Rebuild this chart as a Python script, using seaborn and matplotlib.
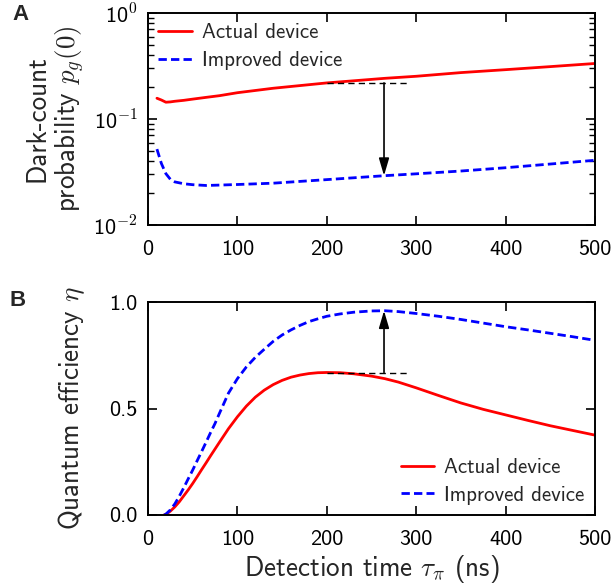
import matplotlib
matplotlib.use("Agg")
import matplotlib.pyplot as plt
import seaborn as sns
import pandas as pd
from matplotlib.ticker import FixedLocator, FixedFormatter, LogLocator, NullFormatter, FormatStrFormatter, NullLocator

# Panel A: dark-count probability versus detection time
tau_a = [10, 15, 20, 25, 30, 40, 50, 65, 80, 100, 140, 200, 265, 300, 350, 400, 450, 500]
actual_pg = [0.157, 0.151, 0.144, 0.145, 0.147, 0.150, 0.154, 0.160, 0.166, 0.177, 0.195,
             0.219, 0.242, 0.253, 0.274, 0.292, 0.312, 0.334]
improved_pg = [0.052, 0.038, 0.0305, 0.027, 0.0255, 0.0245, 0.024, 0.0236, 0.0238, 0.0241,
               0.0248, 0.0268, 0.0292, 0.0304, 0.0323, 0.0347, 0.0376, 0.0408]

# Panel B: quantum efficiency versus detection time
tau_b = [18, 20, 25, 30, 35, 40, 45, 50, 55, 60, 65, 70, 75, 80, 90, 100, 110, 120, 130,
         140, 150, 160, 170, 180, 190, 200, 215, 230, 250, 265, 280, 300, 325, 350, 375,
         400, 425, 450, 475, 500]
actual_eta = [0.0, 0.003, 0.018, 0.038, 0.062, 0.090, 0.118, 0.148, 0.180, 0.213, 0.245,
              0.278, 0.310, 0.342, 0.405, 0.461, 0.511, 0.553, 0.586, 0.612, 0.632, 0.647,
              0.657, 0.664, 0.668, 0.669, 0.668, 0.663, 0.652, 0.640, 0.624, 0.597, 0.561,
              0.526, 0.496, 0.470, 0.444, 0.419, 0.397, 0.375]
improved_eta = [0.0, 0.004, 0.024, 0.052, 0.088, 0.128, 0.170, 0.211, 0.255, 0.298, 0.342,
                0.387, 0.430, 0.478, 0.572, 0.640, 0.695, 0.740, 0.778, 0.815, 0.845, 0.869,
                0.890, 0.908, 0.921, 0.933, 0.944, 0.952, 0.958, 0.959, 0.955, 0.946, 0.933,
                0.918, 0.901, 0.884, 0.869, 0.853, 0.837, 0.820]

labels = ["Actual device", "Improved device"]
x_ticks = [0, 100, 200, 300, 400, 500]
logy_ticks = [1e-2, 1e-1, 1e0]
logy_labels = [r"10$^{\mathsf{-2}}$", r"10$^{\mathsf{-1}}$", r"10$^{\mathsf{0}}$"]
eta_ticks = [0.0, 0.5, 1.0]

# improvement markers: reference time of the actual device and the optimal time
tau_ref, tau_opt, tau_dash_end = 200, 264, 290
pg_ref, pg_opt = 0.219, 0.0292
eta_ref, eta_opt = 0.669, 0.959

sns.set_theme(style="ticks")
plt.rcParams.update({
    "font.family": ["cmss10", "DejaVu Sans"],
    "mathtext.fontset": "cm",
    "axes.unicode_minus": False,
    "axes.linewidth": 1.4,
    "axes.edgecolor": "black",
    "xtick.direction": "in",
    "ytick.direction": "in",
    "xtick.top": True,
    "ytick.right": True,
    "xtick.major.size": 6.5,
    "ytick.major.size": 6.5,
    "xtick.major.width": 1.2,
    "ytick.major.width": 1.2,
    "ytick.minor.size": 4,
    "ytick.minor.width": 1.0,
    "xtick.major.pad": 10.5,
    "ytick.major.pad": 7.5,
    "xtick.labelsize": 16,
    "ytick.labelsize": 16,
    "xtick.color": "black",
    "ytick.color": "black",
})

W, H = 616, 587
fig = plt.figure(figsize=(W / 100, H / 100), dpi=100)
axA = fig.add_axes([148 / W, 1 - 225 / H, 447 / W, 212 / H])
axB = fig.add_axes([148 / W, 1 - 515 / H, 447 / W, 213 / H])

LW = 2.0
DASH = (3, 1.5)
LABEL_FS = 19.5

df_a = pd.DataFrame({"tau": tau_a * 2, "value": actual_pg + improved_pg,
                     "device": [labels[0]] * len(tau_a) + [labels[1]] * len(tau_a)})
df_b = pd.DataFrame({"tau": tau_b * 2, "value": actual_eta + improved_eta,
                     "device": [labels[0]] * len(tau_b) + [labels[1]] * len(tau_b)})

palette = {labels[0]: "#ff0000", labels[1]: "#0000ff"}
dashes = {labels[0]: "", labels[1]: DASH}

for ax, df in ((axA, df_a), (axB, df_b)):
    sns.lineplot(data=df, x="tau", y="value", hue="device", style="device",
                 palette=palette, dashes=dashes, lw=LW, ax=ax, legend=False)

# ---- Panel A ----
axA.set_yscale("log")
axA.set_xlim(0, 500)
axA.set_ylim(1e-2, 1e0)
axA.yaxis.set_major_locator(FixedLocator(logy_ticks))
axA.yaxis.set_major_formatter(FixedFormatter(logy_labels))
axA.yaxis.set_minor_locator(LogLocator(base=10, subs=range(2, 10)))
axA.yaxis.set_minor_formatter(NullFormatter())
axA.xaxis.set_major_locator(FixedLocator(x_ticks))
axA.xaxis.set_minor_locator(NullLocator())
axA.set_xlabel("")
axA.set_ylabel("Dark-count\nprobability $p_g(0)$", fontsize=LABEL_FS, linespacing=1.2)
axA.yaxis.set_label_coords(-0.137, 0.5)

axA.plot([tau_ref, tau_dash_end], [pg_ref, pg_ref], color="black", lw=1.0,
         linestyle=(0, (4.5, 3)))
axA.annotate("", xy=(tau_opt, pg_opt), xytext=(tau_opt, pg_ref),
             arrowprops=dict(arrowstyle="-|>,head_length=0.75,head_width=0.22",
                             color="black", lw=1.2, mutation_scale=14,
                             shrinkA=0, shrinkB=0))

# ---- Panel B ----
axB.set_xlim(0, 500)
axB.set_ylim(0, 1.0)
axB.yaxis.set_major_locator(FixedLocator(eta_ticks))
axB.yaxis.set_major_formatter(FormatStrFormatter("%.1f"))
axB.xaxis.set_major_locator(FixedLocator(x_ticks))
axB.set_xlabel(r"Detection time $\tau_\pi$ (ns)", fontsize=LABEL_FS, labelpad=3)
axB.set_ylabel(r"Quantum efficiency $\eta$", fontsize=LABEL_FS)
axB.yaxis.set_label_coords(-0.137, 0.5)

axB.plot([tau_ref, tau_dash_end], [eta_ref, eta_ref], color="black", lw=1.0,
         linestyle=(0, (4.5, 3)))
axB.annotate("", xy=(tau_opt, eta_opt), xytext=(tau_opt, eta_ref),
             arrowprops=dict(arrowstyle="-|>,head_length=0.75,head_width=0.22",
                             color="black", lw=1.2, mutation_scale=14,
                             shrinkA=0, shrinkB=0))

for ax, loc in ((axA, "upper left"), (axB, "lower right")):
    handles = [plt.Line2D([], [], color=palette[labels[0]], lw=LW),
               plt.Line2D([], [], color=palette[labels[1]], lw=LW, dashes=DASH)]
    ax.legend(handles, labels, loc=loc, frameon=False, fontsize=15,
              handlelength=1.6, handletextpad=0.5, labelspacing=0.42,
              borderaxespad=0.1)
    for s in ax.spines.values():
        s.set_visible(True)

fig.text(12 / W, 1 - 20 / H, "A", fontsize=16, fontweight="bold",
         family=["Liberation Sans", "DejaVu Sans"])
fig.text(10 / W, 1 - 306 / H, "B", fontsize=16, fontweight="bold",
         family=["Liberation Sans", "DejaVu Sans"])

fig.savefig("out.png", dpi=100)
